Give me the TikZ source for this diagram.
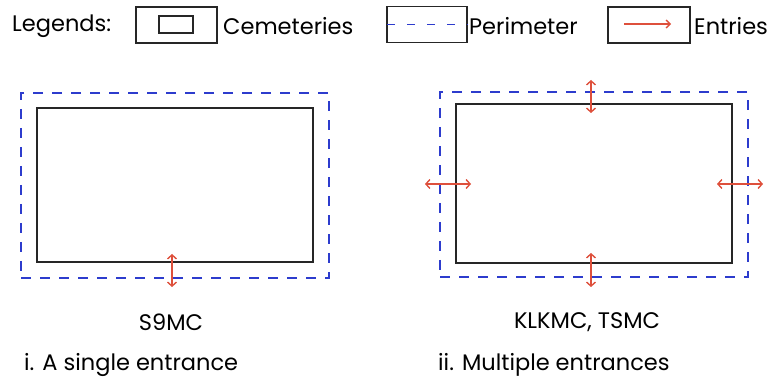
\documentclass[tikz,border=0pt]{standalone}
\usepackage{fontspec}
\setmainfont{Poppins}
\usetikzlibrary{arrows.meta}

\definecolor{perimblue}{RGB}{45,60,205}
\definecolor{entryred}{RGB}{222,80,60}

\tikzset{
  cemetery/.style={draw=black!85, line width=1.6pt, inner sep=0pt},
  perimeter/.style={draw=perimblue, line width=1.7pt, dash pattern=on 10pt off 9pt},
  entry/.style={draw=entryred, line width=1.4pt,
    {Straight Barb[length=4pt,width=9pt]}-{Straight Barb[length=4pt,width=9pt]}},
  legendbox/.style={draw=black!85, line width=1.3pt, minimum width=81pt, minimum height=36pt, inner sep=0pt},
  txt/.style={font=\fontsize{22.5}{26}\selectfont, inner sep=0pt}
}

\begin{document}
\begin{tikzpicture}[x=1pt,y=-1pt]
\useasboundingbox (0,0) rectangle (768,379);

% legend
\node[txt,anchor=west] (legend) at (12,26) {Legends:};
\node[legendbox] (lcem) at (176.5,25) {};
\node[cemetery,line width=1.3pt,minimum width=34pt,minimum height=17pt] (lcemin) at (176,24.5) {};
\node[txt,anchor=west] (lcemtxt) at (223,26) {Cemeteries};
\node[legendbox,minimum width=80pt] (lper) at (427,24.5) {};
\draw[perimeter,line width=1.3pt,dash pattern=on 8pt off 12pt,dash phase=-1pt] (lper.west) -- (lper.east);
\node[txt,anchor=west] (lpertxt) at (469,26) {Perimeter};
\node[legendbox,minimum width=82pt] (lent) at (649,25) {};
\coordinate (lent-a) at (624,24);
\coordinate (lent-b) at (671,24);
\draw[draw=entryred,line width=1.3pt,-{Straight Barb[length=4pt,width=8pt]}] (lent-a) -- (lent-b);
\node[txt,anchor=west] (lenttxt) at (694,26) {Entries};

% i. single entrance
\node[perimeter,minimum width=308pt,minimum height=185pt,inner sep=0pt] (sper) at (175,185.5) {};
\node[cemetery,minimum width=276pt,minimum height=154pt] (scem) at (175,185) {};
\coordinate (s-in) at (172,254);
\coordinate (s-out) at (172,287);
\draw[entry] (s-in) -- (s-out);
\node[txt] (sname) at (171,322) {S9MC};
\node[txt,anchor=west] (scap) at (24,365) {i. A single entrance};

% ii. multiple entrances
\node[perimeter,minimum width=308pt,minimum height=185pt,inner sep=0pt] (mper) at (594,184.5) {};
\node[cemetery,minimum width=276pt,minimum height=159pt] (mcem) at (594,183.5) {};
\coordinate (n-out) at (591,80);
\coordinate (n-in) at (591,113);
\coordinate (s2-in) at (591,253);
\coordinate (s2-out) at (591,287);
\coordinate (w-out) at (425,184);
\coordinate (w-in) at (471,184);
\coordinate (e-in) at (717,184);
\coordinate (e-out) at (763,184);
\draw[entry] (n-out) -- (n-in);
\draw[entry] (s2-in) -- (s2-out);
\draw[entry] (w-out) -- (w-in);
\draw[entry] (e-in) -- (e-out);
\node[txt] (mname) at (587,322) {KLKMC, TSMC};
\node[txt,anchor=west] (mcap) at (438,365) {ii. Multiple entrances};
\end{tikzpicture}
\end{document}
